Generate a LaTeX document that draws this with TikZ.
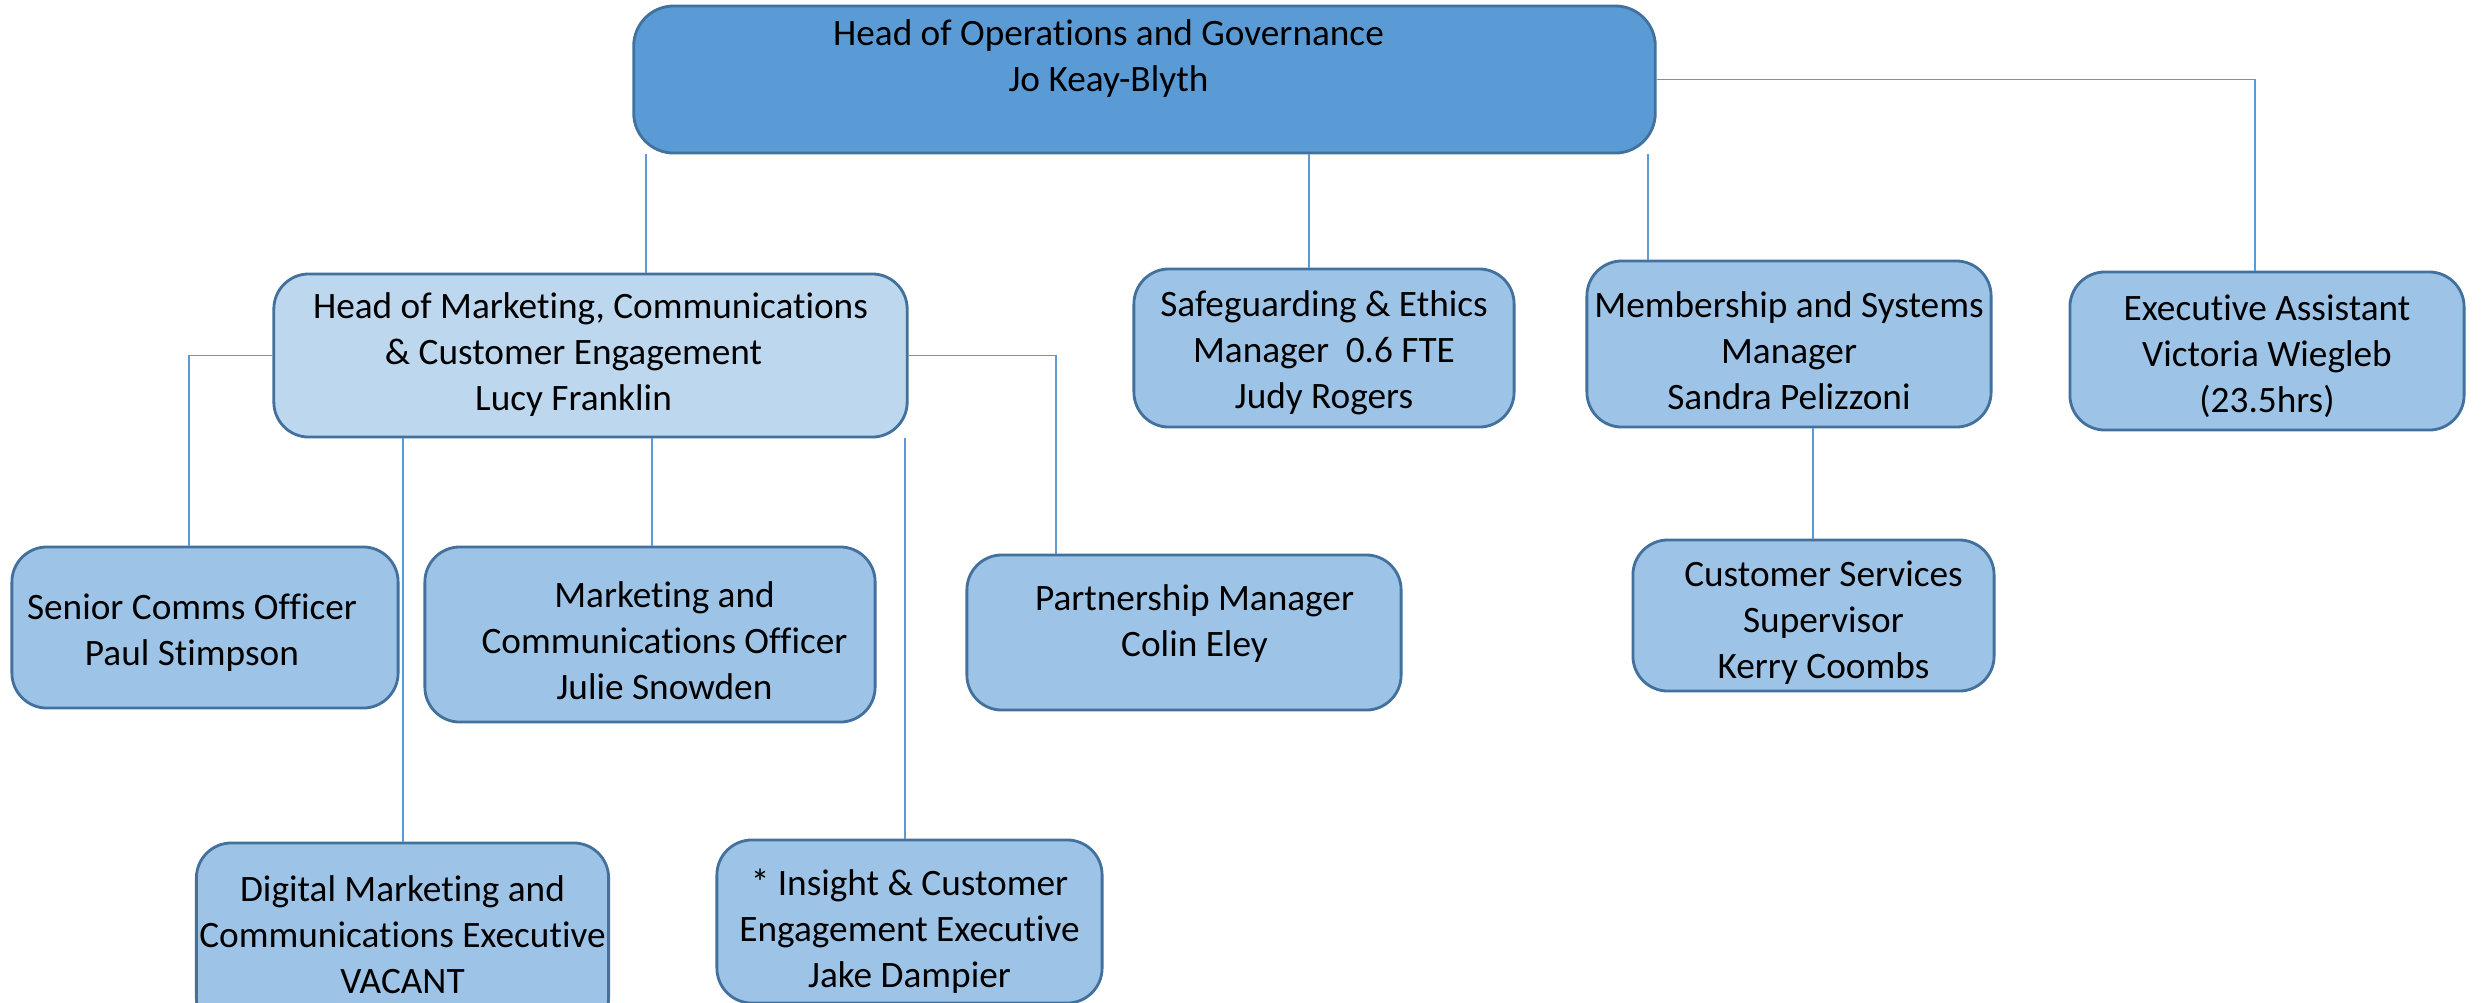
\documentclass[tikz,border=0pt]{standalone}
\usepackage{fontspec}
\setmainfont{Carlito}[Ligatures={NoCommon,NoRequired,NoContextual}]
\definecolor{topfill}{HTML}{5B9BD5}
\definecolor{boxborder}{HTML}{41719C}
\definecolor{boxfill}{HTML}{9DC3E6}
\definecolor{homfill}{HTML}{BDD7EE}
\definecolor{connline}{HTML}{5B9BD5}
\newcommand{\hsp}[1]{\hspace*{#1}}
% #1 = how far the text block is lowered, #2 = lines
\newcommand{\boxtext}[2]{\raisebox{-#1}[\height][\depth]{\begin{tabular}{@{}c@{}}#2\end{tabular}}}
\begin{document}
\begin{tikzpicture}[x=0.01cm,y=-0.01cm,
  orgbox/.style={draw=boxborder, line width=0.8pt, fill=boxfill, rounded corners=0.35cm,
    inner sep=0pt, font=\fontsize{10.6}{13.1}\selectfont},
  conn/.style={draw=connline, line width=0.5pt}]
\clip (0,0) rectangle (2481,1002);
\fill[white] (0,0) rectangle (2481,1002);

% nodes
\node[orgbox, fill=topfill, rounded corners=0.4cm, minimum width=10.21cm, minimum height=1.47cm] (top) at (1144.5,79.5)
  {\boxtext{-0.2cm}{Head of Operations and Governance\hsp{0.72cm}\\ Jo Keay-Blyth\hsp{0.72cm}}};
\node[orgbox, fill=homfill, minimum width=6.33cm, minimum height=1.63cm] (hom) at (590.5,355.5)
  {\boxtext{0cm}{Head of Marketing, Communications\\ \& Customer Engagement\hsp{0.34cm}\\ Lucy Franklin\hsp{0.34cm}}};
\node[orgbox, minimum width=3.80cm, minimum height=1.58cm] (sg) at (1324,348)
  {\boxtext{0.05cm}{Safeguarding \& Ethics\\ Manager\ \ 0.6 FTE\\ Judy Rogers}};
\node[orgbox, minimum width=4.04cm, minimum height=1.66cm] (ms) at (1789,344)
  {\boxtext{0.1cm}{Membership and Systems\\ Manager\\ Sandra Pelizzoni}};
\node[orgbox, minimum width=3.94cm, minimum height=1.58cm] (ex) at (2267,351)
  {\boxtext{0.06cm}{Executive Assistant\\ Victoria Wiegleb\\ (23.5hrs)}};
\node[orgbox, minimum width=3.61cm, minimum height=1.51cm] (cs) at (1813.5,615.5)
  {\boxtext{0.08cm}{\hsp{0.2cm}Customer Services\\ \hsp{0.2cm}Supervisor\\ \hsp{0.2cm}Kerry Coombs}};
\node[orgbox, minimum width=3.86cm, minimum height=1.61cm] (sc) at (205,627.5)
  {\boxtext{0.055cm}{Senior Comms Officer\hsp{0.26cm}\\ Paul Stimpson\hsp{0.26cm}}};
\node[orgbox, minimum width=4.50cm, minimum height=1.75cm] (mco) at (650,634.5)
  {\boxtext{0.095cm}{\hsp{0.29cm}Marketing and\\ \hsp{0.29cm}Communications Officer\\ \hsp{0.29cm}Julie Snowden}};
\node[orgbox, minimum width=4.34cm, minimum height=1.55cm] (pm) at (1184,632.5)
  {\boxtext{-0.085cm}{\hsp{0.21cm}Partnership Manager\\ \hsp{0.21cm}Colin Eley}};
\node[orgbox, minimum width=4.12cm, minimum height=1.90cm] (dm) at (402.5,938)
  {\boxtext{0cm}{Digital Marketing and\\ Communications Executive\\ VACANT}};
\node[orgbox, minimum width=3.85cm, minimum height=1.63cm] (ic) at (909.5,921.5)
  {\boxtext{0.11cm}{* Insight \& Customer\\ Engagement Executive\\ Jake Dampier}};

% x positions of connectors
\coordinate (xhom) at (646,0);
\coordinate (xsg) at (1309,0);
\coordinate (xms) at (1648,0);
\coordinate (xex) at (2255,0);
\coordinate (xcs) at (1813,0);
\coordinate (xsc) at (189,0);
\coordinate (xpm) at (1056,0);
\coordinate (xmco) at (652,0);
\coordinate (xdm) at (403,0);
\coordinate (xic) at (905,0);

% connectors
\draw[conn] (top.south -| xhom) -- (hom.north -| xhom);
\draw[conn] (top.south -| xsg) -- (sg.north -| xsg);
\draw[conn] (top.south -| xms) -- (ms.north -| xms);
\draw[conn] (top.east) -| (ex.north -| xex);
\draw[conn] (ms.south -| xcs) -- (cs.north -| xcs);
\draw[conn] (hom.west) -| (sc.north -| xsc);
\draw[conn] (hom.east) -| (pm.north -| xpm);
\draw[conn] (hom.south -| xmco) -- (mco.north -| xmco);
\draw[conn] (hom.south -| xdm) -- (dm.north -| xdm);
\draw[conn] (hom.south -| xic) -- (ic.north -| xic);
\end{tikzpicture}
\end{document}
